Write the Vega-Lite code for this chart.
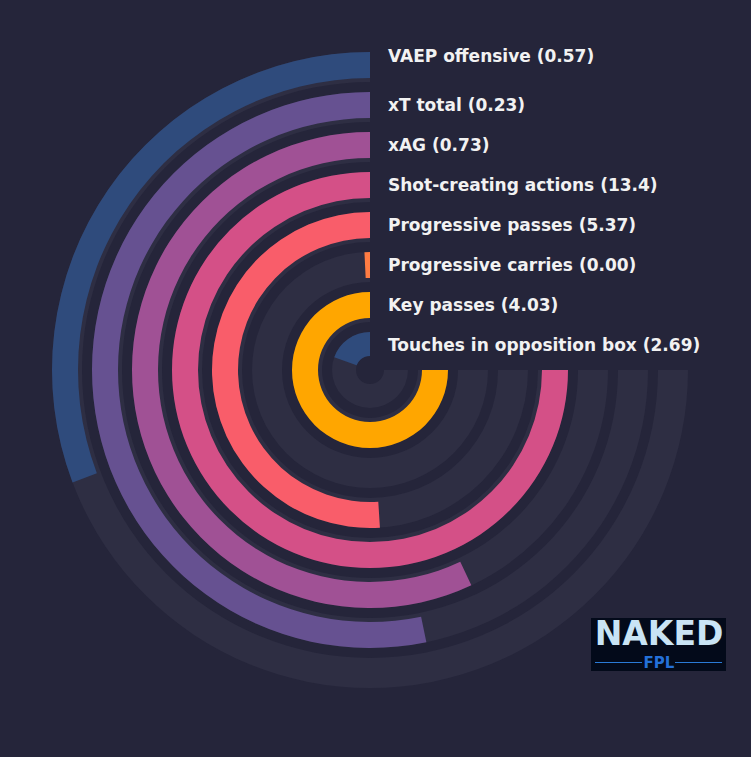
{
  "$schema": "https://vega.github.io/schema/vega-lite/v6.json",
  "width": 740,
  "height": 740,
  "padding": {"left": 0, "top": 0, "right": 11, "bottom": 17},
  "background": "#25253a",
  "config": {
    "view": {"stroke": null},
    "text": {"font": "DejaVu Sans"}
  },
  "data": {
    "values": [
      {"ring": 1, "metric": "VAEP offensive", "label": "VAEP offensive (0.57)", "pct": 41},
      {"ring": 2, "metric": "xT total", "label": "xT total (0.23)", "pct": 71},
      {"ring": 3, "metric": "xAG", "label": "xAG (0.73)", "pct": 76},
      {"ring": 4, "metric": "Shot-creating actions", "label": "Shot-creating actions (13.4)", "pct": 100},
      {"ring": 5, "metric": "Progressive passes", "label": "Progressive passes (5.37)", "pct": 68},
      {"ring": 6, "metric": "Progressive carries", "label": "Progressive carries (0.00)", "pct": 1},
      {"ring": 7, "metric": "Key passes", "label": "Key passes (4.03)", "pct": 100},
      {"ring": 8, "metric": "Touches in opposition box", "label": "Touches in opposition box (2.69)", "pct": 26}
    ]
  },
  "layer": [
    {
      "description": "background tracks, 270 degrees",
      "mark": {"type": "arc", "fill": "#2e2e43", "radius2Offset": -30},
      "encoding": {
        "theta": {
          "datum": 0,
          "type": "quantitative",
          "scale": {"type": "linear", "domain": [0, 100], "range": [6.283185307179586, 1.5707963267948966]}
        },
        "theta2": {"datum": 100},
        "radius": {
          "field": "ring",
          "type": "quantitative",
          "scale": {"type": "linear", "domain": [1, 8], "range": [318, 38]}
        },
        "radius2": {"field": "ring"}
      }
    },
    {
      "description": "percentile bars",
      "mark": {"type": "arc", "radius2Offset": -26},
      "encoding": {
        "theta": {"field": "pct", "type": "quantitative", "stack": null},
        "theta2": {"datum": 0},
        "radius": {"field": "ring", "type": "quantitative"},
        "radius2": {"field": "ring"},
        "color": {
          "field": "metric",
          "type": "nominal",
          "legend": null,
          "scale": {
            "domain": ["VAEP offensive", "xT total", "xAG", "Shot-creating actions", "Progressive passes", "Progressive carries", "Key passes", "Touches in opposition box"],
            "range": ["#2f4b7c", "#665191", "#a05195", "#d45087", "#f95d6a", "#ff7c43", "#ffa600", "#2f4b7c"]
          }
        }
      }
    },
    {
      "description": "centre hole",
      "transform": [{"filter": "datum.ring == 8"}],
      "mark": {"type": "arc", "fill": "#25253a", "radius": 14, "radius2": 0},
      "encoding": {
        "theta": {"datum": 0},
        "theta2": {"datum": 100}
      }
    },
    {
      "transform": [{"filter": "datum.ring > 1"}],
      "mark": {"type": "text", "align": "left", "baseline": "middle", "dx": 18, "dy": 13.5, "fontSize": 17, "fontWeight": "bold", "fill": "#f2f2f2"},
      "encoding": {
        "theta": {"datum": 0},
        "radius": {"field": "ring", "type": "quantitative"},
        "text": {"field": "label"}
      }
    },
    {
      "transform": [{"filter": "datum.ring == 1"}],
      "mark": {"type": "text", "align": "left", "baseline": "middle", "dx": 18, "dy": 4.5, "fontSize": 17, "fontWeight": "bold", "fill": "#f2f2f2"},
      "encoding": {
        "theta": {"datum": 0},
        "radius": {"field": "ring", "type": "quantitative"},
        "text": {"field": "label"}
      }
    },
    {
      "description": "logo box",
      "data": {"values": [{}]},
      "mark": {
        "type": "rect",
        "fill": "#030a1a",
        "x": {"expr": "width - 149"},
        "x2": {"expr": "width - 14"},
        "y": {"expr": "height - 122"},
        "y2": {"expr": "height - 69"}
      },
      "encoding": {}
    },
    {
      "data": {"values": [{}]},
      "mark": {
        "type": "text",
        "text": "NAKED",
        "align": "center",
        "baseline": "middle",
        "fontSize": 33,
        "fontWeight": "bold",
        "fill": "#c9e4f5",
        "x": {"expr": "width - 81"},
        "y": {"expr": "height - 105"}
      },
      "encoding": {}
    },
    {
      "data": {"values": [{}]},
      "mark": {
        "type": "text",
        "text": "FPL",
        "align": "center",
        "baseline": "middle",
        "fontSize": 15,
        "fontWeight": "bold",
        "fill": "#2470d8",
        "x": {"expr": "width - 81"},
        "y": {"expr": "height - 77"}
      },
      "encoding": {}
    },
    {
      "data": {"values": [{}]},
      "mark": {
        "type": "rect",
        "fill": "#2a7ad6",
        "x": {"expr": "width - 145"},
        "x2": {"expr": "width - 98"},
        "y": {"expr": "height - 78"},
        "y2": {"expr": "height - 77"}
      },
      "encoding": {}
    },
    {
      "data": {"values": [{}]},
      "mark": {
        "type": "rect",
        "fill": "#2a7ad6",
        "x": {"expr": "width - 65"},
        "x2": {"expr": "width - 18"},
        "y": {"expr": "height - 78"},
        "y2": {"expr": "height - 77"}
      },
      "encoding": {}
    }
  ]
}
